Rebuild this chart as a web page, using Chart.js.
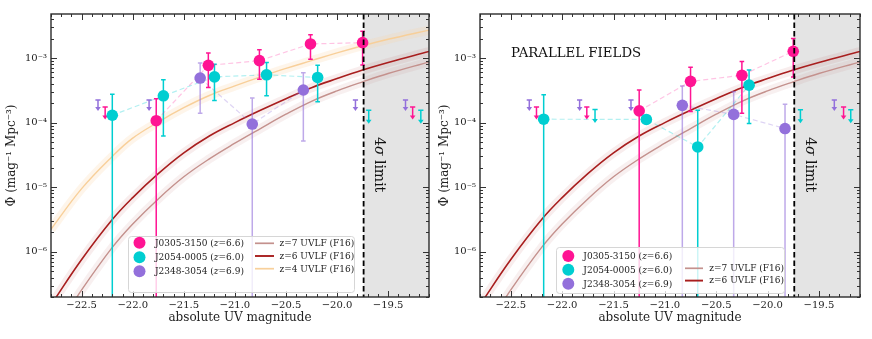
<!DOCTYPE html>
<html>
<head>
<meta charset="utf-8">
<script src="https://cdn.jsdelivr.net/npm/chart.js@4.4.1/dist/chart.umd.min.js"></script>
<style>
  body { margin: 0; background: #fff; }
  .panel { position: absolute; top: 0; width: 436px; height: 339px; }
</style>
</head>
<body>
<div class="panel" style="left:0"><canvas id="chart-left"></canvas></div>
<div class="panel" style="left:436px"><canvas id="chart-right"></canvas></div>
<script>
// axis ticks
const xTicks = [-22.5, -22.0, -21.5, -21.0, -20.5, -20.0, -19.5];
const yTicks = [1e-6, 1e-5, 1e-4, 1e-3];
const xRange = [-22.8, -19.1];
const yRange = [2e-7, 4.8e-3];
const sigmaLimit = -19.74;

// F16 UV luminosity functions
const uvlfMag = [-22.8, -22.5, -22.2, -22.0, -21.75, -21.5, -21.25, -21.0, -20.75, -20.5, -20.25, -20.0, -19.75, -19.5, -19.1];
const uvlfZ7 = [4.8e-8, 2.57e-7, 1.17e-6, 2.7e-6, 6.6e-6, 1.45e-5, 2.75e-5, 4.8e-5, 8.1e-5, 1.35e-4, 2.14e-4, 3.1e-4, 4.27e-4, 5.75e-4, 8.7e-4];
const uvlfZ6 = [1.51e-7, 7.6e-7, 3.16e-6, 6.9e-6, 1.62e-5, 3.4e-5, 6.2e-5, 1.0e-4, 1.55e-4, 2.34e-4, 3.47e-4, 4.8e-4, 6.5e-4, 8.5e-4, 1.26e-3];
const uvlfZ4 = [2.24e-6, 9.5e-6, 3.0e-5, 5.75e-5, 1.02e-4, 1.7e-4, 2.63e-4, 3.7e-4, 5.1e-4, 6.9e-4, 9.1e-4, 1.2e-3, 1.55e-3, 1.95e-3, 2.7e-3];

// left panel (quasar fields)
const j0305Mag = [-21.77, -21.26, -20.76, -20.26, -19.75];
const j0305Phi = [1.07e-4, 7.7e-4, 9.1e-4, 1.65e-3, 1.73e-3];
const j0305Hi = [2.34e-4, 1.2e-3, 1.34e-3, 2.3e-3, 2.6e-3];
const j0305Lo = [0, 3.5e-4, 4.7e-4, 9.6e-4, 7.8e-4];
const j0305LimMag = [-22.27, -19.26];
const j0305LimPhi = [1.74e-4, 1.74e-4];

const j2054Mag = [-22.20, -21.70, -21.20, -20.69, -20.19];
const j2054Phi = [1.3e-4, 2.6e-4, 5.1e-4, 5.5e-4, 5.0e-4];
const j2054Hi = [2.75e-4, 4.6e-4, 8.0e-4, 8.5e-4, 7.7e-4];
const j2054Lo = [0, 6.2e-5, 2.2e-4, 2.6e-4, 2.1e-4];
const j2054LimMag = [-19.69, -19.18];
const j2054LimPhi = [1.55e-4, 1.55e-4];

const j2348Mag = [-21.34, -20.83, -20.33];
const j2348Phi = [4.9e-4, 9.5e-5, 3.2e-4];
const j2348Hi = [8.4e-4, 2.4e-4, 5.9e-4];
const j2348Lo = [1.4e-4, 0, 5.2e-5];
const j2348LimMag = [-22.34, -21.84, -19.82, -19.33];
const j2348LimPhi = [2.24e-4, 2.24e-4, 2.24e-4, 2.24e-4];

// right panel (parallel fields)
const parJ0305Mag = [-21.25, -20.75, -20.25, -19.75];
const parJ0305Phi = [1.52e-4, 4.35e-4, 5.4e-4, 1.27e-3];
const parJ0305Hi = [3.2e-4, 7.2e-4, 8.8e-4, 2.0e-3];
const parJ0305Lo = [0, 1.48e-4, 1.4e-4, 5.1e-4];
const parJ0305LimMag = [-22.25, -21.76, -19.26];
const parJ0305LimPhi = [1.74e-4, 1.74e-4, 1.74e-4];

const parJ2054Mag = [-22.18, -21.18, -20.68, -20.18];
const parJ2054Phi = [1.13e-4, 1.12e-4, 4.2e-5, 3.8e-4];
const parJ2054Hi = [2.7e-4, null, 1.56e-4, 6.5e-4];
const parJ2054Lo = [0, null, 0, 9.7e-5];
const parJ2054LimMag = [-21.68, -19.68, -19.19];
const parJ2054LimPhi = [1.6e-4, 1.58e-4, 1.58e-4];

const parJ2348Mag = [-20.83, -20.33, -19.83];
const parJ2348Phi = [1.85e-4, 1.34e-4, 8.1e-5];
const parJ2348Hi = [3.7e-4, 3.0e-4, 1.93e-4];
const parJ2348Lo = [0, 0, 0];
const parJ2348LimMag = [-22.32, -21.83, -21.33, -19.35];
const parJ2348LimPhi = [2.24e-4, 2.24e-4, 2.24e-4, 2.24e-4];

const FONT = "'DejaVu Serif', serif";
const PINK = "#ff1493";
const CYAN = "#00ced1";
const PURPLE = "#9370db";

const fieldStyle = {
  J0305: { name: "J0305-3150", z: "6.6", color: PINK, bar: PINK, dash: "rgba(255,20,147,0.25)", arrow: 12.5 },
  J2054: { name: "J2054-0005", z: "6.0", color: CYAN, bar: CYAN, dash: "rgba(0,206,209,0.3)", arrow: 13.5 },
  J2348: { name: "J2348-3054", z: "6.9", color: PURPLE, bar: "rgba(147,112,219,0.6)", dash: "rgba(147,112,219,0.3)", arrow: 11 }
};

const curveStyle = {
  z7: { label: "z=7 UVLF (F16)", phi: uvlfZ7, color: "#c4918d", band: "rgba(200,130,130,0.12)", width: 1.4 },
  z6: { label: "z=6 UVLF (F16)", phi: uvlfZ6, color: "#a81e1e", band: "rgba(190,80,80,0.1)", width: 1.6 },
  z4: { label: "z=4 UVLF (F16)", phi: uvlfZ4, color: "rgba(248,205,150,0.95)", band: "rgba(250,210,160,0.22)", width: 1.4 }
};

function supNum(n) {
  const map = { "-": "\u207b", "0": "\u2070", "1": "\u00b9", "2": "\u00b2", "3": "\u00b3", "4": "\u2074", "5": "\u2075", "6": "\u2076", "7": "\u2077", "8": "\u2078", "9": "\u2079" };
  return String(n).split("").map(c => map[c]).join("");
}

// draws a run of [text, italic] pieces left to right
function drawRich(ctx, parts, x, y, size) {
  parts.forEach(([txt, italic]) => {
    ctx.font = `${italic ? "italic " : ""}${size}px ${FONT}`;
    ctx.fillText(txt, x, y);
    x += ctx.measureText(txt).width;
  });
}

function clipToArea(ctx, a) {
  ctx.beginPath();
  ctx.rect(a.left, a.top, a.right - a.left, a.bottom - a.top);
  ctx.clip();
}

function drawErrorBars(chart, f) {
  const { ctx, chartArea: a, scales: { x, y } } = chart;
  const st = fieldStyle[f.key];
  ctx.save();
  clipToArea(ctx, a);
  ctx.lineWidth = 1.5;
  ctx.strokeStyle = st.bar;
  ctx.beginPath();
  f.mag.forEach((m, i) => {
    if (f.hi[i] == null) return;
    const px = x.getPixelForValue(m);
    const top = y.getPixelForValue(f.hi[i]);
    const bot = f.lo[i] > 0 ? y.getPixelForValue(f.lo[i]) : a.bottom + 5;
    ctx.moveTo(px, top); ctx.lineTo(px, bot);
    ctx.moveTo(px - 2.3, top); ctx.lineTo(px + 2.3, top);
    if (f.lo[i] > 0) { ctx.moveTo(px - 2.3, bot); ctx.lineTo(px + 2.3, bot); }
  });
  ctx.stroke();

  // upper limits
  ctx.strokeStyle = st.color;
  ctx.fillStyle = st.color;
  f.limMag.forEach((m, i) => {
    const px = x.getPixelForValue(m);
    const top = y.getPixelForValue(f.limPhi[i]);
    const tip = top + st.arrow;
    ctx.beginPath();
    ctx.moveTo(px - 2.6, top); ctx.lineTo(px + 2.6, top);
    ctx.moveTo(px, top); ctx.lineTo(px, tip - 3);
    ctx.stroke();
    ctx.beginPath();
    ctx.moveTo(px - 2.8, tip - 4); ctx.lineTo(px + 2.8, tip - 4); ctx.lineTo(px, tip);
    ctx.closePath();
    ctx.fill();
  });
  ctx.restore();
}

function drawLegend(ctx, p) {
  const lg = p.legend;
  const [bx, by, bw, bh] = lg.box;
  ctx.save();
  ctx.beginPath();
  ctx.roundRect(bx + 0.5, by + 0.5, bw, bh, 3);
  ctx.fillStyle = "rgba(255,255,255,0.8)";
  ctx.fill();
  ctx.strokeStyle = "#d6d6d6";
  ctx.lineWidth = 1;
  ctx.stroke();

  ctx.textBaseline = "middle";
  ctx.textAlign = "left";
  p.fields.forEach((f, i) => {
    const st = fieldStyle[f.key];
    ctx.fillStyle = st.color;
    ctx.beginPath();
    ctx.arc(lg.markX, lg.rowsA[i], 6, 0, Math.PI * 2);
    ctx.fill();
    ctx.fillStyle = "#222";
    drawRich(ctx, [[st.name + " (", false], ["z", true], ["=" + st.z + ")", false]], lg.textX, lg.rowsA[i] + 0.5, 9);
  });
  p.curves.forEach((k, i) => {
    const c = curveStyle[k];
    ctx.strokeStyle = c.color;
    ctx.lineWidth = c.width + 0.3;
    ctx.beginPath();
    ctx.moveTo(lg.lineX[0], lg.rowsB[i]);
    ctx.lineTo(lg.lineX[1], lg.rowsB[i]);
    ctx.stroke();
    ctx.fillStyle = "#222";
    drawRich(ctx, [[c.label, false]], lg.curveTextX, lg.rowsB[i] + 0.5, 9);
  });
  ctx.restore();
}

function drawFrameAndTicks(chart) {
  const { ctx, chartArea: a, scales: { x, y } } = chart;
  ctx.save();
  ctx.strokeStyle = "#333";
  ctx.lineWidth = 1;
  ctx.beginPath();
  for (let t = -228; t <= -191; t++) {
    const v = t / 10;
    const px = Math.round(x.getPixelForValue(v)) + 0.5;
    const len = t % 5 === 0 ? 6 : 3;
    ctx.moveTo(px, a.bottom); ctx.lineTo(px, a.bottom - len);
    ctx.moveTo(px, a.top); ctx.lineTo(px, a.top + len);
  }
  for (let d = -7; d <= -3; d++) {
    for (let k = 1; k <= 9; k++) {
      const v = k * Math.pow(10, d);
      if (v < yRange[0] || v > yRange[1]) continue;
      const py = Math.round(y.getPixelForValue(v)) + 0.5;
      const len = k === 1 ? 6 : 3;
      ctx.moveTo(a.left, py); ctx.lineTo(a.left + len, py);
      ctx.moveTo(a.right, py); ctx.lineTo(a.right - len, py);
    }
  }
  ctx.stroke();
  ctx.lineWidth = 1.4;
  ctx.strokeStyle = "#2b2b2b";
  ctx.strokeRect(a.left, a.top, a.right - a.left, a.bottom - a.top);
  ctx.restore();
}

const panelPlugin = {
  id: "panelDecor",
  beforeDatasetsDraw(chart) {
    const { ctx, chartArea: a, scales: { x } } = chart;
    const lx = x.getPixelForValue(sigmaLimit);
    ctx.save();
    ctx.fillStyle = "#e4e4e4";
    ctx.fillRect(lx, a.top, a.right - lx, a.bottom - a.top);
    ctx.restore();
  },
  afterDatasetDraw(chart, args) {
    const ds = chart.data.datasets[args.index];
    if (ds.fieldIdx === undefined) return;
    drawErrorBars(chart, chart.options.plugins.panelDecor.panel.fields[ds.fieldIdx]);
  },
  afterDatasetsDraw(chart) {
    const { ctx, chartArea: a, scales: { x } } = chart;
    const p = chart.options.plugins.panelDecor.panel;
    const lx = x.getPixelForValue(sigmaLimit);

    ctx.save();
    ctx.strokeStyle = "#000";
    ctx.lineWidth = 1.8;
    ctx.setLineDash([5.5, 3]);
    ctx.beginPath();
    ctx.moveTo(lx, a.top);
    ctx.lineTo(lx, a.bottom);
    ctx.stroke();
    ctx.setLineDash([]);

    // "4σ limit", rotated clockwise
    ctx.translate(lx + 15, 137);
    ctx.rotate(Math.PI / 2);
    ctx.fillStyle = "#111";
    ctx.textBaseline = "middle";
    drawRich(ctx, [["4", false], ["\u03c3", true], [" limit", false]], 0, 0, 14);
    ctx.restore();

    if (p.title) {
      ctx.save();
      ctx.fillStyle = "#111";
      ctx.textBaseline = "middle";
      drawRich(ctx, [[p.title, false]], a.left + 31, 54, 13.3);
      ctx.restore();
    }

    drawFrameAndTicks(chart);
    drawLegend(ctx, p);
  }
};

function makePanel(canvasId, p) {
  const datasets = [];
  p.curves.forEach(k => {
    const c = curveStyle[k];
    const pts = uvlfMag.map((m, i) => ({ x: m, y: c.phi[i] }));
    datasets.push({ type: "line", data: pts, borderColor: c.band, borderWidth: 9, pointRadius: 0, tension: 0.4, order: 40 });
    datasets.push({ type: "line", data: pts, borderColor: c.color, borderWidth: c.width, pointRadius: 0, tension: 0.4, order: 30 });
  });
  p.fields.forEach((f, k) => {
    const st = fieldStyle[f.key];
    const pts = f.mag.map((m, i) => ({ x: m, y: f.phi[i] }));
    datasets.push({ type: "line", data: pts, borderColor: st.dash, borderWidth: 1.2, borderDash: [5, 3], pointRadius: 0, order: 20, fieldIdx: k });
    datasets.push({ type: "scatter", data: pts, backgroundColor: st.color, borderWidth: 0, pointRadius: 5.8, order: 5 - k });
  });

  return new Chart(document.getElementById(canvasId), {
    type: "line",
    data: { datasets },
    plugins: [panelPlugin],
    options: {
      responsive: true,
      maintainAspectRatio: false,
      animation: false,
      events: [],
      layout: { padding: { left: 0, right: p.padRight, top: 14, bottom: 0 } },
      plugins: {
        legend: { display: false },
        tooltip: { enabled: false },
        panelDecor: { panel: p }
      },
      scales: {
        x: {
          type: "linear",
          min: xRange[0],
          max: xRange[1],
          afterBuildTicks: s => { s.ticks = xTicks.map(v => ({ value: v })); },
          afterFit: s => { s.height = 42; },
          grid: { display: false, drawTicks: false },
          border: { display: false },
          ticks: {
            autoSkip: false,
            maxRotation: 0,
            padding: 2,
            color: "#222",
            font: { family: FONT, size: 10 },
            callback: v => "\u2212" + Math.abs(v).toFixed(1)
          },
          title: {
            display: true,
            text: "absolute UV magnitude",
            color: "#222",
            font: { family: FONT, size: 12 },
            padding: { top: 0, bottom: 14 }
          }
        },
        y: {
          type: "logarithmic",
          min: yRange[0],
          max: yRange[1],
          afterBuildTicks: s => { s.ticks = yTicks.map(v => ({ value: v })); },
          afterFit: s => { s.width = p.yWidth; },
          grid: { display: false, drawTicks: false },
          border: { display: false },
          ticks: {
            padding: 4,
            color: "#222",
            font: { family: FONT, size: 10 },
            callback: v => "10" + supNum(Math.round(Math.log10(v)))
          },
          title: {
            display: true,
            text: "\u03a6 (mag\u207b\u00b9 Mpc\u207b\u00b3)",
            color: "#222",
            font: { family: FONT, size: 12 },
            padding: { top: p.yTitlePad, bottom: 0 }
          }
        }
      }
    }
  });
}

makePanel("chart-left", {
  padRight: 7,
  yWidth: 51,
  yTitlePad: 5,
  title: null,
  curves: ["z7", "z6", "z4"],
  fields: [
    { key: "J0305", mag: j0305Mag, phi: j0305Phi, hi: j0305Hi, lo: j0305Lo, limMag: j0305LimMag, limPhi: j0305LimPhi },
    { key: "J2054", mag: j2054Mag, phi: j2054Phi, hi: j2054Hi, lo: j2054Lo, limMag: j2054LimMag, limPhi: j2054LimPhi },
    { key: "J2348", mag: j2348Mag, phi: j2348Phi, hi: j2348Hi, lo: j2348Lo, limMag: j2348LimMag, limPhi: j2348LimPhi }
  ],
  legend: {
    box: [128, 236, 226, 56],
    markX: 139.5, rowsA: [242.8, 257.2, 271.2], textX: 155,
    lineX: [255, 274], rowsB: [243.3, 256, 268.7], curveTextX: 279.5
  }
});

makePanel("chart-right", {
  padRight: 12,
  yWidth: 44,
  yTitlePad: 2,
  title: "PARALLEL FIELDS",
  curves: ["z7", "z6"],
  fields: [
    { key: "J0305", mag: parJ0305Mag, phi: parJ0305Phi, hi: parJ0305Hi, lo: parJ0305Lo, limMag: parJ0305LimMag, limPhi: parJ0305LimPhi },
    { key: "J2054", mag: parJ2054Mag, phi: parJ2054Phi, hi: parJ2054Hi, lo: parJ2054Lo, limMag: parJ2054LimMag, limPhi: parJ2054LimPhi },
    { key: "J2348", mag: parJ2348Mag, phi: parJ2348Phi, hi: parJ2348Hi, lo: parJ2348Lo, limMag: parJ2348LimMag, limPhi: parJ2348LimPhi }
  ],
  legend: {
    box: [120, 247, 228, 46],
    markX: 132.3, rowsA: [256, 269.8, 283.8], textX: 147.3,
    lineX: [249, 267], rowsB: [268.3, 280.6], curveTextX: 273.3
  }
});
</script>
</body>
</html>
